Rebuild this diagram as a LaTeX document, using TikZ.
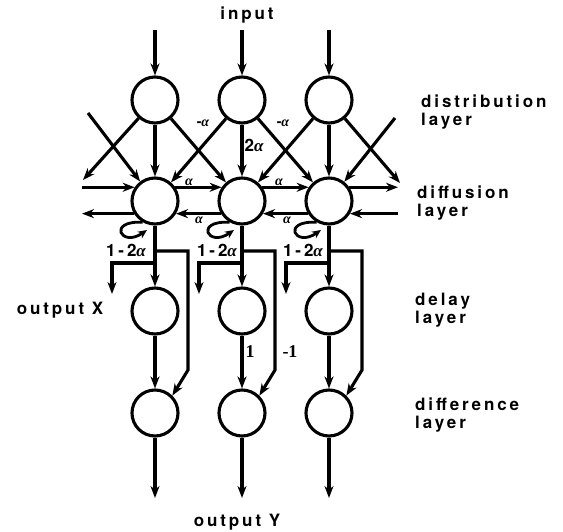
\documentclass[tikz,border=0pt]{standalone}
\usepackage{fontspec}
\setmainfont{TeX Gyre Heros}[LetterSpace=17]
\newfontfamily\grk{Liberation Serif}
\newcommand\al{{\grk\bfseries\itshape α}}
\usetikzlibrary{arrows.meta,calc}
\begin{document}
\begin{tikzpicture}[x=1pt,y=-1pt,
  neuron/.style={circle,draw,line width=3.1pt,minimum size=46pt,inner sep=0pt},
  conn/.style={line width=3.1pt,-{Stealth[length=12pt,width=9pt]}},
  loopc/.style={line width=2.8pt,-{Stealth[length=9pt,width=8pt]}},
  lbl/.style={font=\fontsize{17}{17.5}\selectfont\bfseries, align=left, inner sep=0pt},
  coef/.style={font=\fontsize{17}{17}\selectfont\bfseries, inner sep=0pt},
  small/.style={font=\fontsize{14}{14}\selectfont\bfseries, inner sep=0pt},
  num/.style={font=\fontsize{18}{18}\selectfont\grk\bfseries, inner sep=0pt}]
\useasboundingbox (0,0) rectangle (563,532);

\coordinate (lefte) at (82,0);
\coordinate (righte) at (398,0);

\foreach \i/\x in {1/155,2/242,3/329} {
  \node[neuron] (dist\i) at (\x,100) {};
  \node[neuron] (diff\i) at (\x,201) {};
  \node[neuron] (dly\i) at (\x,311) {};
  \node[neuron] (dif\i) at (\x,413) {};
  \coordinate (in\i) at (\x,30);
  \coordinate (out\i) at (\x,498);
  \coordinate (ra\i) at (\x,251);
  \coordinate (rb\i) at (\x+33,251);
  \coordinate (rc\i) at (\x+33,370);
  \coordinate (la\i) at (\x,263);
  \coordinate (lb\i) at (\x-43,263);
  \coordinate (lc\i) at (\x-43,294);
  \draw[conn] (in\i) -- (dist\i);
  \draw[conn] (dist\i) -- (diff\i);
  \draw[conn] (diff\i) -- (dly\i);
  \draw[conn] (dly\i) -- (dif\i);
  \draw[conn] (dif\i) -- (out\i);
  \draw[conn] (ra\i) -- (rb\i) -- (rc\i) -- (dif\i.45);
  \draw[conn] (la\i) -- (lb\i) -- (lc\i);
  \draw[loopc] (diff\i.240) .. controls +(-36,-2) and +(-26,18) .. ($(diff\i)+(-8,29)$);
}

% diagonals
\coordinate (eL) at (83,180);
\coordinate (sL) at (88,113);
\coordinate (eR) at (400,183);
\coordinate (sR) at (395,118);
\draw[conn] (dist1) -- (diff2);
\draw[conn] (dist2) -- (diff1);
\draw[conn] (dist2) -- (diff3);
\draw[conn] (dist3) -- (diff2);
\draw[conn] (dist1) -- (eL);
\draw[conn] (sL) -- (diff1);
\draw[conn] (dist3) -- (eR);
\draw[conn] (sR) -- (diff3);

% horizontals
\draw[conn] (diff1.34) -- (diff2.146);
\draw[conn] (diff2.34) -- (diff3.146);
\draw[conn] (diff1.146 -| lefte) -- (diff1.146);
\draw[conn] (diff3.34) -- (diff3.34 -| righte);
\draw[conn] (diff2.211) -- (diff1.-31);
\draw[conn] (diff3.211) -- (diff2.-31);
\draw[conn] (diff1.211) -- (diff1.211 -| lefte);
\draw[conn] (diff3.-31 -| righte) -- (diff3.-31);

% coefficient labels
\node[small] (ma1) at (203,123) {-\al};
\node[small] (ma2) at (283,123) {-\al};
\node[coef] (ta) at (254,145) {2\al};
\node[small] (a1) at (189,182) {\al};
\node[small] (a2) at (279,182) {\al};
\node[small] (a3) at (199,220) {\al};
\node[small] (a4) at (287,220) {\al};
\node[coef] (s1) at (126,250) {1-2\al};
\node[coef] (s2) at (217,250) {1-2\al};
\node[coef] (s3) at (303,250) {1-2\al};
\node[num] (one) at (250,352) {1};
\node[num] (mone) at (290,352) {-1};

% texts
\node[lbl] (tin) at (247,15) {input};
\node[lbl,anchor=west] (tdist) at (421,112) {distribution\\layer};
\node[lbl,anchor=west] (tdiff) at (417,203) {diffusion\\layer};
\node[lbl,anchor=west] (tdel) at (415,310) {delay\\layer};
\node[lbl,anchor=west] (tdif) at (415,415) {difference\\layer};
\node[lbl] (tx) at (60,310) {output X};
\node[lbl] (ty) at (237,522) {output Y};
\end{tikzpicture}
\end{document}
